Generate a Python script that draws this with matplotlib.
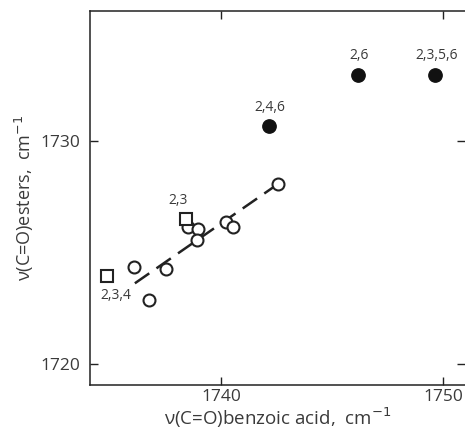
import matplotlib.pyplot as plt
import numpy as np

plt.rcParams['font.family'] = ['Open Sans', 'DejaVu Sans']

# open circles: fitted series
acid_open = [1742.55, 1740.22, 1740.55, 1738.53, 1738.95, 1738.93, 1737.51, 1736.10, 1736.75]
ester_open = [1728.06, 1726.35, 1726.16, 1726.16, 1726.04, 1725.56, 1724.28, 1724.37, 1722.87]

# squares
acid_sq = [1738.41, 1734.87]
ester_sq = [1726.52, 1723.95]
sq_labels = ['2,3', '2,3,4']

# filled circles (ortho-disubstituted)
acid_fill = [1742.15, 1746.16, 1749.64]
ester_fill = [1730.67, 1732.97, 1732.97]
fill_labels = ['2,4,6', '2,6', '2,3,5,6']

# regression line end points
line_x = [1736.13, 1742.55]
line_y = [1723.62, 1728.06]

col = '#222222'
txt = '#3a3a3a'

fig = plt.figure(figsize=(4.65, 4.38), dpi=100)
ax = fig.add_axes([0.1935, 0.121, 0.8065, 0.854])

ax.plot(line_x, line_y, color=col, lw=1.8, dashes=(7, 3.5), zorder=1)
ax.plot(acid_open, ester_open, 'o', ms=8.6, mfc='white', mec=col, mew=1.5, zorder=3)
ax.plot(acid_sq, ester_sq, 's', ms=8, mfc='white', mec=col, mew=1.5, zorder=3)
ax.plot(acid_fill, ester_fill, 'o', ms=9.6, mfc='#111111', mec='#111111', zorder=3)

# labels
ax.text(1738.08, 1727.32, sq_labels[0], fontsize=10, color=txt, ha='center', va='center')
ax.text(1735.28, 1723.06, sq_labels[1], fontsize=10, color=txt, ha='center', va='center')
for x, y, s in zip(acid_fill, ester_fill, fill_labels):
    ax.text(x + 0.05, y + 0.85, s, fontsize=10, color=txt, ha='center', va='center')

ax.set_xlim(1734.11, 1750.98)
ax.set_ylim(1719.06, 1735.83)
ax.set_xticks([1740, 1750])
ax.set_yticks([1720, 1730])
ax.tick_params(direction='in', length=6, width=1, color=col, labelcolor=txt,
               labelsize=12.5, top=True, right=True, pad=7)
ax.tick_params(axis='x', pad=3)
ax.spines['right'].set_visible(False)
for s in ['left', 'bottom', 'top']:
    ax.spines[s].set_color(col)
    ax.spines[s].set_linewidth(1.1)

ax.set_xlabel('ν(C=O)benzoic acid,  cm$^{-1}$', fontsize=13.5, color=txt, labelpad=0)
ax.set_ylabel('ν(C=O)esters,  cm$^{-1}$', fontsize=13, color=txt, labelpad=3)

fig.savefig('out.png', dpi=100)
